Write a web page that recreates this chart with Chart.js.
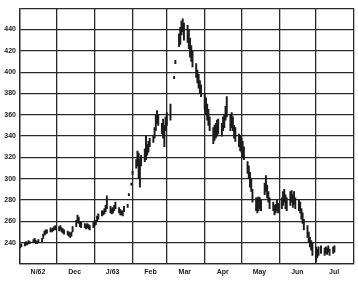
<!DOCTYPE html>
<html><head><meta charset="utf-8">
<script src="https://cdn.jsdelivr.net/npm/chart.js@4/dist/chart.umd.min.js"></script>
<style>html,body{margin:0;padding:0;background:#fff}#w{width:358px;height:284px}</style>
</head><body><div id="w"><canvas id="c"></canvas></div>
<script>
const monthLabels = ["N/62","Dec","J/63","Feb","Mar","Apr","May","Jun","Jul",""];
const monthStarts = [0,30,61,92,120,151,181,212,242,273];
const yTickLabels = [240,260,280,300,320,340,360,380,400,420,440];

// day index from Nov 1 1962, daily low and high
const days = [
 0,1,4,5,6,7,8,11,12,13,14,15,18,19,20,21,22,25,26,27,28,29,
 32,33,34,35,36,39,40,41,42,43,46,47,48,49,50,53,54,55,56,57,60,
 61,62,63,64,67,68,69,70,71,74,75,76,77,78,81,82,83,84,85,88,89,91,
 92,95,96,97,98,99,102,103,104,105,106,109,110,111,112,113,116,117,118,119,
 120,123,126,127,130,131,132,133,134,137,138,139,140,141,144,145,146,147,148,
 151,152,153,154,155,158,159,160,161,162,165,166,167,168,169,172,173,174,175,176,179,180,
 181,182,183,186,187,188,189,190,193,194,195,196,197,200,201,202,203,204,207,208,209,210,211,
 214,215,216,217,218,221,222,223,224,225,228,229,230,231,232,235,236,237,238,239,
 242,243,244,246,249,250,251,252,253,256,257
];
const lows = [
 235,236,237,238,238,239,239,240,240,239,239,240,241,244,247,248,249,250,250,251,252,252,
 251,252,250,249,248,247,246,245,246,250,255,259,258,255,254,254,253,254,253,252,254,
 256,257,260,262,265,266,267,269,272,268,267,268,270,272,268,266,266,265,269,273,284,294,
 304,310,312,300,292,312,316,318,322,325,330,334,338,345,352,350,342,338,330,345,
 350,355,394,408,424,426,435,438,430,428,422,414,410,405,395,390,385,380,377,
 365,360,355,350,345,333,336,338,340,342,340,345,348,355,358,345,348,345,338,335,330,326,
 325,320,318,305,300,292,288,278,270,268,270,272,270,285,288,282,278,272,270,266,268,270,268,
 272,275,278,272,270,275,278,273,276,272,270,268,262,258,252,245,240,236,233,228,
 222,226,228,230,228,230,229,231,228,230,231
];
const highs = [
 238,239,240,241,240,242,241,243,244,242,241,243,244,248,251,252,252,254,253,254,255,256,
 255,256,254,253,252,251,250,249,250,255,261,266,264,260,259,258,257,258,257,256,259,
 261,261,265,267,270,270,272,275,284,274,272,273,275,278,273,271,270,270,274,276,286,296,
 307,318,326,324,318,322,328,340,332,335,338,340,348,360,364,360,352,356,350,358,
 362,370,396,411,436,442,448,450,446,444,440,432,425,420,408,402,398,392,388,
 380,376,370,365,358,348,350,352,355,356,352,358,360,368,377,360,362,358,350,348,342,340,
 338,335,330,316,312,306,300,290,282,282,283,282,280,296,303,294,288,282,278,275,276,280,277,
 282,288,290,285,282,288,289,285,288,282,280,278,272,268,262,256,250,245,242,240,
 236,234,236,237,235,236,235,237,234,236,237
];

const bars = days.map((d,i)=>({x:d, y:[lows[i], highs[i]]}));
const ink = '#1c1c1c';
const font = {family:'"Liberation Sans", Arial, sans-serif', size:7, weight:'bold'};

new Chart(document.getElementById('c'), {
  type:'bar',
  data:{datasets:[{data:bars, backgroundColor:ink, borderWidth:0, barThickness:1.3}]},
  options:{
    responsive:true, maintainAspectRatio:false, animation:false, devicePixelRatio:1,
    layout:{padding:{top:6,right:4,left:0,bottom:0}},
    plugins:{legend:{display:false}, tooltip:{enabled:false}},
    scales:{
      x:{type:'linear', min:0, max:273, offset:false,
        afterBuildTicks:s=>{s.ticks = monthStarts.map(v=>({value:v}));},
        afterFit:s=>{s.height=20;},
        ticks:{autoSkip:false, maxRotation:0, labelOffset:18, padding:4, color:ink, font:font,
          callback:(v,i)=>monthLabels[i]||''},
        grid:{offset:false, color:'#2a2a2a', lineWidth:1.3, drawTicks:false},
        border:{display:true, color:'#2a2a2a', width:1.3}
      },
      y:{min:220, max:460,
        afterFit:s=>{s.width=20;},
        ticks:{stepSize:20, padding:4, color:ink, font:font,
          callback:v=>yTickLabels.includes(v)?String(v):''},
        grid:{color:'#2a2a2a', lineWidth:1.3, drawTicks:false},
        border:{display:true, color:'#2a2a2a', width:1.3}
      }
    }
  }
});
</script>
</body></html>
